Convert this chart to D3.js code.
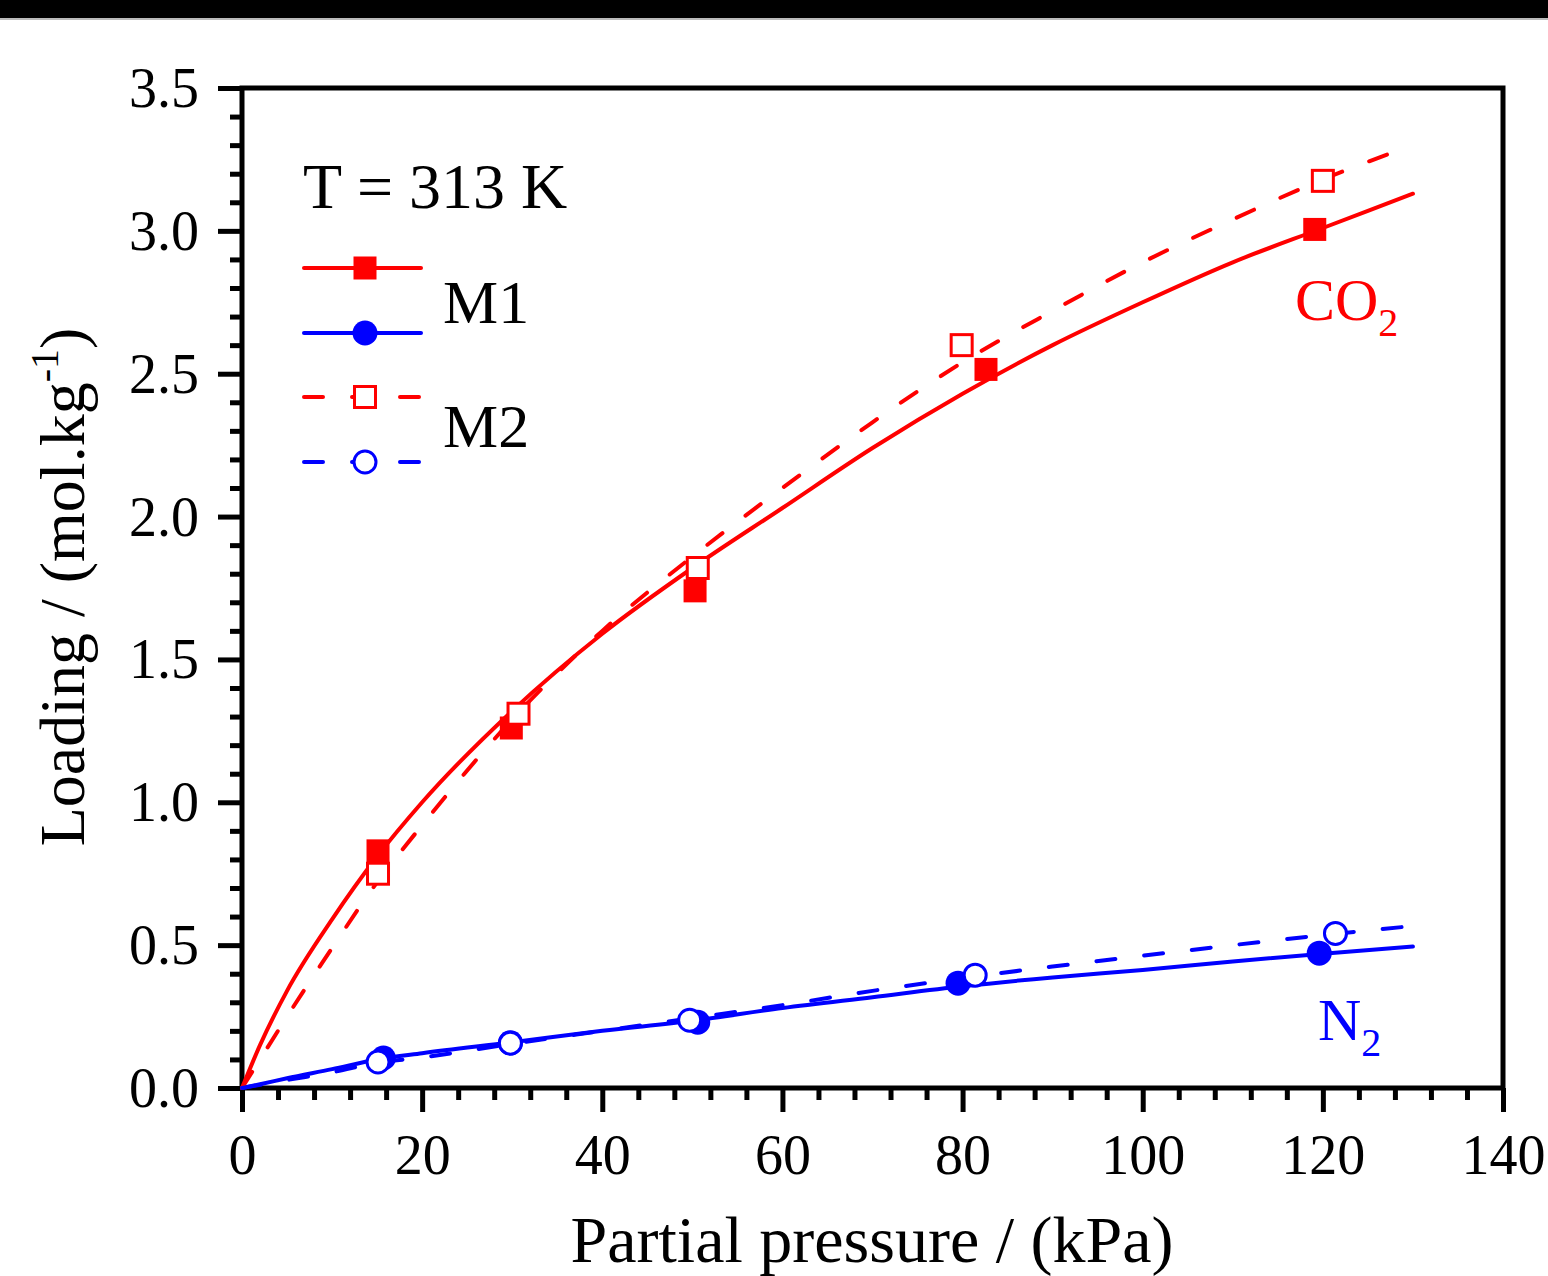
<!DOCTYPE html>
<html>
<head>
<meta charset="utf-8">
<script src="https://cdn.jsdelivr.net/npm/d3@7"></script>
<style>
  body { margin: 0; background: #fff; }
  svg text { font-family: "Liberation Serif", "Times New Roman", serif; }
</style>
</head>
<body>
<svg id="chart" width="1548" height="1276"></svg>
<script>
// measured points (kPa, mol/kg)
var co2M1P = [15.1, 29.9, 50.3, 82.6, 119.1];
var co2M1Q = [0.83, 1.26, 1.74, 2.515, 3.005];
var co2M2P = [15.1, 30.7, 50.6, 79.9, 120.0];
var co2M2Q = [0.75, 1.31, 1.82, 2.60, 3.175];
var n2M1P = [15.7, 29.8, 50.6, 79.5, 119.6];
var n2M1Q = [0.105, 0.158, 0.23, 0.367, 0.472];
var n2M2P = [15.1, 29.8, 49.7, 81.4, 121.4];
var n2M2Q = [0.091, 0.157, 0.237, 0.395, 0.541];

// model curves
var fitP = [0, 2, 5, 10, 15, 20, 30, 40, 50, 60, 70, 80, 90, 100, 110, 120, 130];
var fitCo2M1 = [0, 0.15, 0.34, 0.59, 0.81, 1.00, 1.32, 1.59, 1.82, 2.03, 2.24, 2.43, 2.60, 2.75, 2.89, 3.01, 3.13];
var fitCo2M2 = [0, 0.10, 0.25, 0.49, 0.72, 0.92, 1.29, 1.60, 1.86, 2.10, 2.33, 2.54, 2.72, 2.89, 3.04, 3.18, 3.30];
var fitN2M1 = [0, 0.013, 0.034, 0.066, 0.10, 0.122, 0.16, 0.20, 0.235, 0.28, 0.318, 0.356, 0.387, 0.413, 0.443, 0.47, 0.495];
var fitN2M2 = [0, 0.011, 0.028, 0.055, 0.088, 0.107, 0.155, 0.20, 0.245, 0.29, 0.34, 0.385, 0.425, 0.463, 0.50, 0.535, 0.567];

var xTicks = [0, 20, 40, 60, 80, 100, 120, 140];
var yTicks = [0.0, 0.5, 1.0, 1.5, 2.0, 2.5, 3.0, 3.5];

var RED = "#ff0000", BLUE = "#0000ff";

var svg = d3.select("#chart");

// black band at the top of the image
svg.append("rect").attr("x", 0).attr("y", 0).attr("width", 1548).attr("height", 18).attr("fill", "#000");
svg.append("rect").attr("x", 0).attr("y", 18).attr("width", 1548).attr("height", 2).attr("fill", "#bbb");

var x = d3.scaleLinear().domain([0, 140]).range([242, 1503]);
var y = d3.scaleLinear().domain([0, 3.5]).range([1088, 88]);

var g = svg.append("g");

// frame
g.append("rect")
    .attr("x", x(0)).attr("y", y(3.5))
    .attr("width", x(140) - x(0)).attr("height", y(0) - y(3.5))
    .attr("fill", "none").attr("stroke", "#000").attr("stroke-width", 5);

// bottom axis: major + minor ticks
var xAxis = g.append("g").attr("transform", "translate(0," + y(0) + ")")
    .call(d3.axisBottom(x).tickValues(xTicks).tickSize(24).tickSizeOuter(0).tickFormat(d3.format("d")));
xAxis.append("g").call(d3.axisBottom(x).tickValues(d3.range(0, 141, 4).filter(function (d) { return d % 20 !== 0; }))
    .tickSize(12).tickSizeOuter(0).tickFormat(""));

// left axis
var yAxis = g.append("g").attr("transform", "translate(" + x(0) + ",0)")
    .call(d3.axisLeft(y).tickValues(yTicks).tickSize(24).tickSizeOuter(0).tickFormat(d3.format(".1f")));
yAxis.append("g").call(d3.axisLeft(y).tickValues(d3.range(1, 35).filter(function (d) { return d % 5 !== 0; }).map(function (d) { return d / 10; }))
    .tickSize(12).tickSizeOuter(0).tickFormat(""));

svg.selectAll(".domain").remove();
svg.selectAll(".tick line").attr("stroke", "#000").attr("stroke-width", 5);
xAxis.selectAll(".tick text").attr("font-size", 56).attr("fill", "#000").attr("y", 46).attr("dy", "0.71em")
    .attr("font-family", "Liberation Serif");
yAxis.selectAll(".tick text").attr("font-size", 56).attr("fill", "#000").attr("x", -43).attr("dy", "0.33em")
    .attr("font-family", "Liberation Serif");

// axis titles
svg.append("text").attr("x", 872).attr("y", 1262).attr("text-anchor", "middle")
    .attr("font-size", 66).text("Partial pressure / (kPa)");

var yt = svg.append("text").attr("transform", "translate(84,587) rotate(-90)").attr("text-anchor", "middle")
    .attr("font-size", 64);
yt.append("tspan").text("Loading / (mol.kg");
yt.append("tspan").attr("font-size", 40).attr("dy", -26).text("-1");
yt.append("tspan").attr("dy", 26).text(")");

// curves
var line = d3.line().x(function (d) { return x(d[0]); }).y(function (d) { return y(d[1]); }).curve(d3.curveMonotoneX);

function curve(vals, color, dashed) {
    var pts = fitP.map(function (p, i) { return [p, vals[i]]; });
    g.append("path").datum(pts).attr("d", line)
        .attr("fill", "none").attr("stroke", color).attr("stroke-width", 4)
        .attr("stroke-linecap", "round").attr("stroke-linejoin", "round")
        .attr("stroke-dasharray", dashed ? "19 29" : null);
}

function markers(ps, qs, color, shape, open) {
    var data = ps.map(function (p, i) { return [p, qs[i]]; });
    drawMarker(g, data.map(function (d) { return [x(d[0]), y(d[1])]; }), color, shape, open);
}

function drawMarker(parent, pts, color, shape, open) {
    if (shape === "square") {
        var s = open ? 21 : 23;
        parent.selectAll(null).data(pts).enter().append("rect")
            .attr("x", function (d) { return d[0] - s / 2; })
            .attr("y", function (d) { return d[1] - s / 2; })
            .attr("width", s).attr("height", s)
            .attr("fill", open ? "#fff" : color)
            .attr("stroke", open ? color : "none").attr("stroke-width", 3);
    } else {
        parent.selectAll(null).data(pts).enter().append("circle")
            .attr("cx", function (d) { return d[0]; })
            .attr("cy", function (d) { return d[1]; })
            .attr("r", open ? 11 : 12.5)
            .attr("fill", open ? "#fff" : color)
            .attr("stroke", open ? color : "none").attr("stroke-width", 3);
    }
}

curve(fitCo2M1, RED, false);
markers(co2M1P, co2M1Q, RED, "square", false);
curve(fitN2M1, BLUE, false);
markers(n2M1P, n2M1Q, BLUE, "circle", false);
curve(fitCo2M2, RED, true);
markers(co2M2P, co2M2Q, RED, "square", true);
curve(fitN2M2, BLUE, true);
markers(n2M2P, n2M2Q, BLUE, "circle", true);

// gas labels
var c = svg.append("text").attr("x", 1295).attr("y", 320).attr("font-size", 60).attr("fill", RED);
c.append("tspan").text("CO");
c.append("tspan").attr("font-size", 40).attr("dy", 16).text("2");
var n = svg.append("text").attr("x", 1318).attr("y", 1040).attr("font-size", 60).attr("fill", BLUE);
n.append("tspan").text("N");
n.append("tspan").attr("font-size", 40).attr("dy", 16).text("2");

// legend
svg.append("text").attr("x", 303).attr("y", 208).attr("font-size", 64).text("T = 313 K");
var leg = [
    { y: 268, color: RED, shape: "square", open: false },
    { y: 333, color: BLUE, shape: "circle", open: false },
    { y: 397, color: RED, shape: "square", open: true },
    { y: 462, color: BLUE, shape: "circle", open: true }
];
leg.forEach(function (l) {
    svg.append("line").attr("x1", 304).attr("x2", 421).attr("y1", l.y).attr("y2", l.y)
        .attr("stroke", l.color).attr("stroke-width", 4).attr("stroke-linecap", "round")
        .attr("stroke-dasharray", l.open ? "19 29" : null);
    drawMarker(svg, [[365, l.y]], l.color, l.shape, l.open);
});
svg.append("text").attr("x", 443).attr("y", 323).attr("font-size", 62).text("M1");
svg.append("text").attr("x", 443).attr("y", 447).attr("font-size", 62).text("M2");
</script>
</body>
</html>
